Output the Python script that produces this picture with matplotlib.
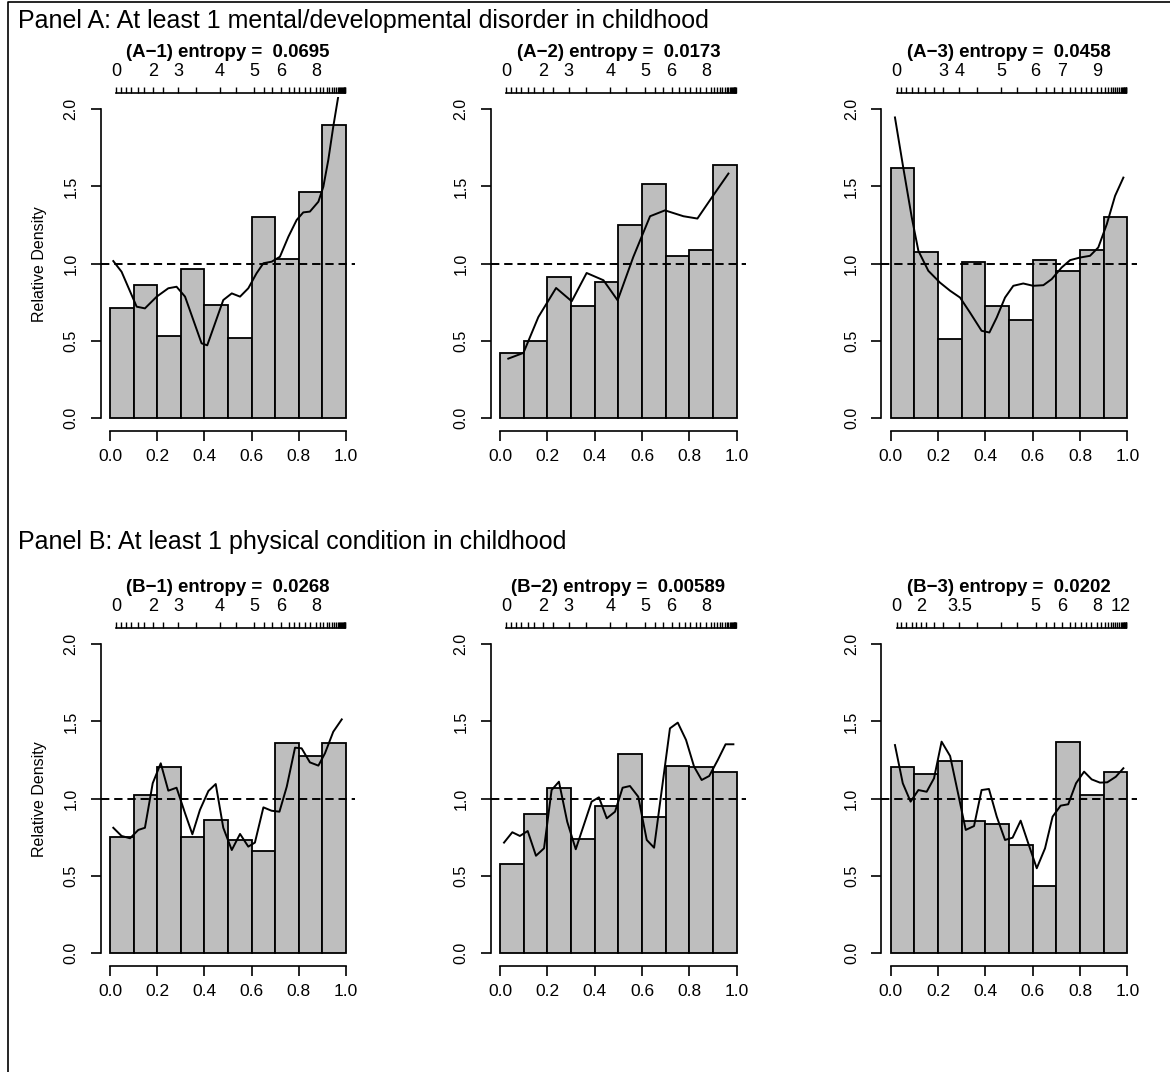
import matplotlib
matplotlib.use("Agg")
import matplotlib.pyplot as plt
from matplotlib.lines import Line2D
import numpy as np

plt.rcParams["font.family"] = ["Liberation Sans", "DejaVu Sans"]
plt.rcParams["lines.scale_dashes"] = False

W, H = 1170, 1072

# bar heights (10 bins of width 0.1)
bars_a1 = [0.711, 0.860, 0.532, 0.966, 0.733, 0.521, 1.300, 1.028, 1.464, 1.897]
bars_a2 = [0.425, 0.500, 0.916, 0.727, 0.880, 1.253, 1.518, 1.050, 1.087, 1.639]
bars_a3 = [1.622, 1.077, 0.512, 1.012, 0.726, 0.635, 1.021, 0.952, 1.086, 1.305]
bars_b1 = [0.754, 1.024, 1.203, 0.750, 0.864, 0.733, 0.664, 1.358, 1.276, 1.362]
bars_b2 = [0.580, 0.903, 1.069, 0.739, 0.953, 1.287, 0.882, 1.214, 1.203, 1.171]
bars_b3 = [1.207, 1.158, 1.242, 0.854, 0.834, 0.700, 0.437, 1.365, 1.024, 1.173]

# smoothed relative density curves
curve_a1_x = [0.014, 0.049, 0.113, 0.148, 0.198, 0.247, 0.282, 0.318, 0.353, 0.388,
              0.412, 0.445, 0.480, 0.516, 0.551, 0.586, 0.621, 0.650, 0.685, 0.720,
              0.756, 0.791, 0.819, 0.847, 0.883, 0.904, 0.925, 0.946, 0.967]
curve_a1_y = [1.017, 0.948, 0.722, 0.711, 0.787, 0.841, 0.851, 0.787, 0.636, 0.485,
              0.472, 0.614, 0.765, 0.808, 0.787, 0.841, 0.938, 1.003, 1.013, 1.045,
              1.175, 1.283, 1.332, 1.337, 1.401, 1.498, 1.671, 1.886, 2.080]
curve_a2_x = [0.035, 0.099, 0.162, 0.237, 0.303, 0.366, 0.437, 0.497, 0.563, 0.634,
              0.697, 0.775, 0.834, 0.901, 0.965]
curve_a2_y = [0.386, 0.423, 0.655, 0.843, 0.757, 0.940, 0.893, 0.763, 1.043, 1.307,
              1.345, 1.307, 1.292, 1.442, 1.583]
curve_a3_x = [0.018, 0.053, 0.089, 0.117, 0.159, 0.208, 0.251, 0.293, 0.335, 0.384,
              0.417, 0.448, 0.483, 0.518, 0.560, 0.602, 0.645, 0.680, 0.722, 0.758,
              0.800, 0.842, 0.877, 0.913, 0.948, 0.983]
curve_a3_y = [1.946, 1.622, 1.299, 1.083, 0.954, 0.878, 0.825, 0.781, 0.684, 0.566,
              0.555, 0.652, 0.781, 0.857, 0.872, 0.857, 0.861, 0.900, 0.975, 1.023,
              1.040, 1.051, 1.105, 1.256, 1.439, 1.557]
curve_b1_x = [0.014, 0.049, 0.085, 0.120, 0.148, 0.181, 0.215, 0.247, 0.282, 0.318,
              0.349, 0.381, 0.417, 0.448, 0.480, 0.516, 0.551, 0.586, 0.614, 0.650,
              0.685, 0.718, 0.749, 0.784, 0.812, 0.847, 0.883, 0.911, 0.946, 0.982]
curve_b1_y = [0.812, 0.759, 0.744, 0.798, 0.812, 1.100, 1.229, 1.052, 1.071, 0.906,
              0.770, 0.927, 1.050, 1.095, 0.812, 0.668, 0.772, 0.690, 0.716, 0.944,
              0.922, 0.916, 1.078, 1.330, 1.326, 1.235, 1.214, 1.294, 1.433, 1.513]
curve_b2_x = [0.017, 0.052, 0.084, 0.117, 0.152, 0.186, 0.218, 0.249, 0.284, 0.320,
              0.387, 0.418, 0.451, 0.486, 0.518, 0.549, 0.584, 0.620, 0.651, 0.718,
              0.751, 0.786, 0.820, 0.852, 0.884, 0.920, 0.953, 0.986]
curve_b2_y = [0.716, 0.783, 0.759, 0.791, 0.631, 0.679, 1.056, 1.110, 0.851, 0.673,
              0.981, 1.009, 0.873, 0.916, 1.071, 1.082, 1.013, 0.733, 0.683, 1.455,
              1.492, 1.380, 1.207, 1.121, 1.147, 1.250, 1.352, 1.352]
curve_b3_x = [0.018, 0.051, 0.084, 0.117, 0.152, 0.183, 0.215, 0.251, 0.286, 0.317,
              0.352, 0.384, 0.415, 0.448, 0.483, 0.515, 0.549, 0.581, 0.617, 0.652,
              0.684, 0.718, 0.750, 0.783, 0.817, 0.849, 0.884, 0.915, 0.951, 0.983]
curve_b3_y = [1.347, 1.100, 0.981, 1.056, 1.045, 1.132, 1.369, 1.276, 1.024, 0.798,
              0.823, 1.056, 1.063, 0.884, 0.733, 0.748, 0.858, 0.712, 0.550, 0.679,
              0.884, 0.955, 0.964, 1.100, 1.175, 1.125, 1.104, 1.106, 1.142, 1.197]

# top axis: reference-distribution ticks (relative-rank positions)
ref_ticks = [0.025, 0.045, 0.066, 0.088, 0.117, 0.144, 0.181, 0.223, 0.290, 0.364,
             0.466, 0.533, 0.612, 0.654, 0.688, 0.725, 0.758, 0.780, 0.802, 0.826,
             0.847, 0.872, 0.890, 0.904, 0.918, 0.929, 0.939, 0.949, 0.958, 0.965,
             0.971, 0.976, 0.980, 0.984, 0.987, 0.990, 0.992, 0.994, 0.996]
ref_ticks_b3 = [0.025, 0.045, 0.066, 0.088, 0.106, 0.127, 0.150, 0.181, 0.223, 0.290,
                0.364, 0.466, 0.533, 0.612, 0.654, 0.688, 0.725, 0.758, 0.780, 0.802,
                0.826, 0.847, 0.872, 0.890, 0.904, 0.918, 0.929, 0.939, 0.949, 0.958,
                0.965, 0.971, 0.976, 0.980, 0.984, 0.987, 0.990, 0.992, 0.994, 0.996]
ref_labels_a1 = {0.025: "0", 0.181: "2", 0.290: "3", 0.466: "4", 0.612: "5", 0.725: "6", 0.872: "8"}
ref_labels_a2 = ref_labels_a1
ref_labels_a3 = {0.025: "0", 0.223: "3", 0.290: "4", 0.466: "5", 0.612: "6", 0.725: "7", 0.872: "9"}
ref_labels_b1 = ref_labels_a1
ref_labels_b2 = ref_labels_a1
ref_labels_b3 = {0.025: "0", 0.127: "2", 0.290: "3.5", 0.612: "5", 0.725: "6", 0.872: "8", 0.971: "12"}

titles = ["(A\u22121) entropy =  0.0695", "(A\u22122) entropy =  0.0173", "(A\u22123) entropy =  0.0458",
          "(B\u22121) entropy =  0.0268", "(B\u22122) entropy =  0.00589", "(B\u22123) entropy =  0.0202"]

panels = [
    (bars_a1, curve_a1_x, curve_a1_y, ref_ticks, ref_labels_a1),
    (bars_a2, curve_a2_x, curve_a2_y, ref_ticks, ref_labels_a2),
    (bars_a3, curve_a3_x, curve_a3_y, ref_ticks, ref_labels_a3),
    (bars_b1, curve_b1_x, curve_b1_y, ref_ticks, ref_labels_b1),
    (bars_b2, curve_b2_x, curve_b2_y, ref_ticks, ref_labels_b2),
    (bars_b3, curve_b3_x, curve_b3_y, ref_ticks_b3, ref_labels_b3),
]

# pixel layout: x pixel of data 0, pixels per unit; y pixel of data 0
col_x0 = [110, 500, 890.7]
col_w = [236, 236.7, 236.7]
row_y0 = [418.3, 953.3]
y_unit = 154.6

fig = plt.figure(figsize=(W / 100, H / 100), dpi=100)
# outer frame (left and top edges visible)
fig.add_artist(Line2D([8 / W, 8 / W, 1.0], [0.0, 1 - 1.5 / H, 1 - 1.5 / H],
                      transform=fig.transFigure, color="black", linewidth=1.2))

fig.text(18 / W, 1 - 21 / H, "Panel A: At least 1 mental/developmental disorder in childhood",
         fontsize=18, va="center", ha="left")
fig.text(18 / W, 1 - 542 / H, "Panel B: At least 1 physical condition in childhood",
         fontsize=18, va="center", ha="left")

edges = np.arange(10) * 0.1
for i, (heights, cx, cy, ticks, labels) in enumerate(panels):
    r, c = divmod(i, 3)
    left = col_x0[c] - 0.04 * col_w[c]
    width = 1.08 * col_w[c]
    top = row_y0[r] - 2.08 * y_unit
    height = 2.16 * y_unit
    ax = fig.add_axes([left / W, 1 - (top + height) / H, width / W, height / H])
    ax.set_xlim(-0.04, 1.04)
    ax.set_ylim(-0.08, 2.08)

    ax.bar(edges, heights, width=0.1, align="edge", color="#BEBEBE",
           edgecolor="black", linewidth=1.3)
    ax.plot(cx, cy, color="black", linewidth=1.4)
    ax.axhline(1.0, color="black", linewidth=1.4, linestyle=(0, (6, 3.5)))

    for s in ["top", "right"]:
        ax.spines[s].set_visible(False)
    ax.spines["left"].set_bounds(0, 2)
    ax.spines["bottom"].set_bounds(0, 1)
    ax.spines["left"].set_linewidth(1.2)
    ax.spines["bottom"].set_linewidth(1.2)
    ax.set_xticks([0, 0.2, 0.4, 0.6, 0.8, 1.0])
    ax.set_xticklabels(["0.0", "0.2", "0.4", "0.6", "0.8", "1.0"])
    ax.set_yticks([0, 0.5, 1.0, 1.5, 2.0])
    ax.set_yticklabels(["0.0", "0.5", "1.0", "1.5", "2.0"], rotation=90, va="center")
    ax.tick_params(axis="both", direction="out", length=7, width=1.2, labelsize=11.5)
    ax.tick_params(axis="x", pad=6, labelsize=12.5)
    ax.tick_params(axis="y", pad=9)
    if c == 0:
        ax.set_ylabel("Relative Density", fontsize=11.5, labelpad=12)

    sec = ax.secondary_xaxis(1.012)
    sec.set_xticks(ticks)
    sec.set_xticklabels([labels.get(t, "") for t in ticks])
    sec.tick_params(direction="out", length=4, width=1.0, labelsize=13, pad=5)
    sec.spines["top"].set_bounds(ticks[0], ticks[-1])
    sec.spines["top"].set_linewidth(1.2)

    ax.text(0.5, 1.131, titles[i], transform=ax.transAxes, ha="center", va="center",
            fontsize=13.4, fontweight="bold")

fig.savefig("out.png", dpi=100)
